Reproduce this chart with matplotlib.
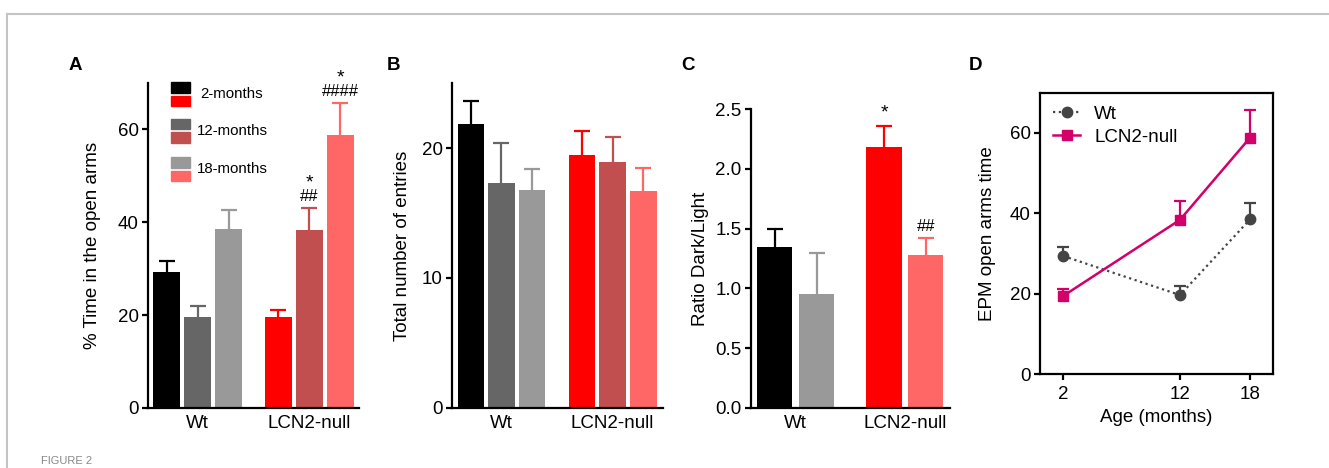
import matplotlib
matplotlib.use("Agg")
import matplotlib.pyplot as plt
from matplotlib.patches import Rectangle
from matplotlib.lines import Line2D
import numpy as np

plt.rcParams['font.family'] = ['Liberation Sans', 'DejaVu Sans']

# ---------------- data ----------------
groups = ["Wt", "LCN2-null"]
ages = ["2-months", "12-months", "18-months"]
age_months = [2, 12, 18]

# colours: Wt (2, 12, 18 months), LCN2-null (2, 12, 18 months)
wt_colors = ["#000000", "#666666", "#999999"]
ko_colors = ["#FF0000", "#C24F4F", "#FF6666"]

# Panel A: % time in open arms (mean, SEM)
a_wt_mean = [29.4, 19.7, 38.5]
a_wt_sem = [2.3, 2.3, 4.1]
a_ko_mean = [19.5, 38.4, 58.8]
a_ko_sem = [1.6, 4.7, 6.8]
a_ko_marks = [["", ""], ["*", "##"], ["*", "####"]]

# Panel B: total number of entries
b_wt_mean = [21.9, 17.3, 16.8]
b_wt_sem = [1.75, 3.1, 1.6]
b_ko_mean = [19.45, 18.95, 16.7]
b_ko_sem = [1.9, 1.9, 1.75]

# Panel C: ratio dark/light (2 and 18 months)
c_wt_mean = [1.343, 0.95]
c_wt_sem = [0.151, 0.348]
c_ko_mean = [2.183, 1.279]
c_ko_sem = [0.179, 0.145]
c_wt_colors = ["#000000", "#999999"]
c_ko_colors = ["#FF0000", "#FF6666"]
c_ko_marks = ["*", "##"]

# Panel D: EPM open arms time vs age
d_wt_color = "#444444"
d_ko_color = "#D4006A"

FS = 13.5
W, H = 1329, 468
fig = plt.figure(figsize=(W / 100, H / 100), dpi=100)

def px_axes(l, r, b, t):
    return fig.add_axes([l / W, 1 - b / H, (r - l) / W, (b - t) / H])

def style_bar_axes(ax):
    for s in ["top", "right"]:
        ax.spines[s].set_visible(False)
    for s in ["left", "bottom"]:
        ax.spines[s].set_linewidth(1.6)
    ax.tick_params(axis="y", length=4.5, width=1.6, labelsize=FS, pad=2)
    ax.tick_params(axis="x", length=0, labelsize=FS, pad=5)

def draw_bars(ax, pos, means, sems, colors, width, capsize):
    for p, m, s, c in zip(pos, means, sems, colors):
        ax.bar(p, m, width=width, color=c, zorder=2)
        eb = ax.errorbar(p, m, yerr=[[0], [s]], fmt="none", ecolor=c,
                         elinewidth=1.6, capsize=capsize, capthick=1.6, zorder=1)
        eb.lines[1][0].set_visible(False)

# ---------------- Panel A ----------------
axA = px_axes(148, 359, 408, 83)
style_bar_axes(axA)
gap = 3.6
posA_wt = np.arange(3)
posA_ko = np.arange(3) + gap
draw_bars(axA, posA_wt, a_wt_mean, a_wt_sem, wt_colors, 0.87, 5.5)
draw_bars(axA, posA_ko, a_ko_mean, a_ko_sem, ko_colors, 0.87, 5.5)
axA.set_ylim(0, 70)
axA.set_yticks([0, 20, 40, 60])
axA.set_xlim(-0.6, 6.21)
axA.set_xticks([posA_wt[1], posA_ko[1]], groups)
axA.set_ylabel("% Time in the open arms", fontsize=FS, va="center")
axA.yaxis.set_label_coords(-0.261, 0.5)
for p, m, s, mk in zip(posA_ko, a_ko_mean, a_ko_sem, a_ko_marks):
    if mk[1]:
        axA.annotate(mk[1], (p, m + s), xytext=(0, 3), textcoords="offset points",
                     ha="center", va="bottom", fontsize=12)
        axA.annotate(mk[0], (p, m + s), xytext=(0, 12), textcoords="offset points",
                     ha="center", va="bottom", fontsize=14)
# legend (two stacked squares per age)
leg_y = [0.969, 0.857, 0.738]
for i, age in enumerate(ages):
    axA.add_patch(Rectangle((0.109, leg_y[i]), 0.09, 0.033, transform=axA.transAxes,
                            color=wt_colors[i], clip_on=False))
    axA.add_patch(Rectangle((0.109, leg_y[i] - 0.041), 0.09, 0.033, transform=axA.transAxes,
                            color=ko_colors[i], clip_on=False))
    axA.text(0.23 if i else 0.246, leg_y[i] - 0.004, age, transform=axA.transAxes,
             fontsize=10.8, va="center", ha="left")

# ---------------- Panel B ----------------
axB = px_axes(451.7, 662.7, 407.7, 83.3)
style_bar_axes(axB)
posB_wt = np.arange(3)
posB_ko = np.arange(3) + 3.62
draw_bars(axB, posB_wt, b_wt_mean, b_wt_sem, wt_colors, 0.86, 5.5)
draw_bars(axB, posB_ko, b_ko_mean, b_ko_sem, ko_colors, 0.86, 5.5)
axB.set_ylim(0, 25)
axB.set_yticks([0, 10, 20])
axB.set_xlim(-0.62, 6.25)
axB.set_xticks([posB_wt[1], posB_ko[1]], groups)
axB.set_ylabel("Total number of entries", fontsize=FS, va="center")
axB.yaxis.set_label_coords(-0.231, 0.5)

# ---------------- Panel C ----------------
axC = px_axes(750.7, 950, 407.7, 109.3)
style_bar_axes(axC)
posC_wt = np.arange(2)
posC_ko = np.arange(2) + 2.61
draw_bars(axC, posC_wt, c_wt_mean, c_wt_sem, c_wt_colors, 0.84, 6)
draw_bars(axC, posC_ko, c_ko_mean, c_ko_sem, c_ko_colors, 0.84, 6)
axC.set_ylim(0, 2.5)
axC.set_yticks([0, 0.5, 1.0, 1.5, 2.0, 2.5])
axC.set_yticklabels(["0.0", "0.5", "1.0", "1.5", "2.0", "2.5"])
axC.set_xlim(-0.58, 4.19)
axC.set_xticks([posC_wt.mean(), posC_ko.mean()], groups)
axC.set_ylabel("Ratio Dark/Light", fontsize=FS, va="center")
axC.yaxis.set_label_coords(-0.254, 0.5)
for p, m, s, mk in zip(posC_ko, c_ko_mean, c_ko_sem, c_ko_marks):
    axC.annotate(mk, (p, m + s), xytext=(0, 3), textcoords="offset points",
                 ha="center", va="bottom", fontsize=14 if mk == "*" else 12)

# ---------------- Panel D ----------------
axD = px_axes(1040, 1273.3, 374.3, 92.7)
for s in axD.spines.values():
    s.set_linewidth(1.6)
axD.tick_params(axis="both", length=4.5, width=1.6, labelsize=FS, pad=2)
axD.tick_params(axis="x", pad=4)
wt_style = dict(color=d_wt_color, ls=(0, (1, 1.6)), lw=1.6, marker="o", ms=7.5)
ko_style = dict(color=d_ko_color, ls="-", lw=1.8, marker="s", ms=6.5)
ebw = axD.errorbar(age_months, a_wt_mean, yerr=[[0] * 3, a_wt_sem], capsize=4,
                   capthick=1.6, elinewidth=1.6, **wt_style)
ebw.lines[1][0].set_visible(False)
ebk = axD.errorbar(age_months, a_ko_mean, yerr=[[0] * 3, a_ko_sem], capsize=4,
                   capthick=1.6, elinewidth=1.6, **ko_style)
ebk.lines[1][0].set_visible(False)
axD.set_xlim(0, 20)
axD.set_ylim(0, 70)
axD.set_xticks(age_months)
axD.set_yticks([0, 20, 40, 60])
axD.set_xlabel("Age (months)", fontsize=FS, labelpad=4)
axD.set_ylabel("EPM open arms time", fontsize=FS, va="center")
axD.yaxis.set_label_coords(-0.223, 0.5)
handles = [Line2D([], [], **wt_style), Line2D([], [], **ko_style)]
axD.legend(handles, ["Wt", "LCN2-null"], loc="upper left", frameon=False, fontsize=FS,
           handlelength=1.45, handletextpad=0.75, labelspacing=0.3,
           borderaxespad=0.3, bbox_to_anchor=(0.0, 1.0))

# ---------------- panel letters, frame ----------------
for lab, x in zip(["A", "B", "C", "D"], [75, 393, 688, 975]):
    fig.text(x / W, 1 - 65 / H, lab, fontsize=13.5, fontweight="bold", ha="center", va="center")

fig.add_artist(Line2D([7 / W, 1], [1 - 14 / H, 1 - 14 / H], transform=fig.transFigure,
                      color="#c4c4c4", lw=1.5))
fig.add_artist(Line2D([7 / W, 7 / W], [1 - 14 / H, 0], transform=fig.transFigure,
                      color="#c4c4c4", lw=1.5))
fig.text(41 / W, 1 - 466 / H, "FIGURE 2", fontsize=8, color="#888888", va="bottom", ha="left")

fig.savefig("out.png", dpi=100)
